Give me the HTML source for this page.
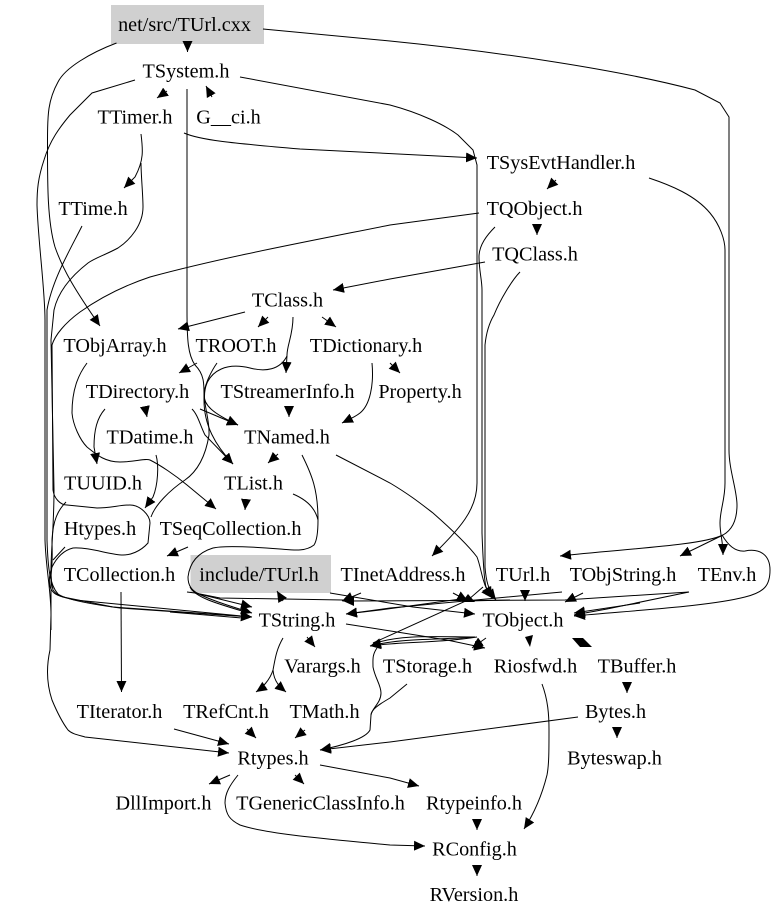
<!DOCTYPE html>
<html><head><meta charset="utf-8"><title>TUrl include graph</title>
<style>
html,body{margin:0;padding:0;background:#fff;width:779px;height:918px;overflow:hidden}
svg{display:block}
text{font-family:"Liberation Serif",serif;font-size:20.200px;fill:#000;text-anchor:middle}
.e path{fill:none;stroke:#000;stroke-width:1}
.a path{fill:none;stroke:#000;stroke-width:1;marker-end:url(#h)}
</style></head><body>
<svg width="779" height="918" viewBox="0 0 779 918" xmlns="http://www.w3.org/2000/svg">
<defs><marker id="h" markerUnits="userSpaceOnUse" markerWidth="12" markerHeight="11" refX="11" refY="5" orient="auto"><path d="M0,0L11,5L0,10z" fill="#000"/></marker></defs>
<rect x="111" y="5" width="153" height="39" fill="#d0d0d0"/>
<rect x="190.500" y="555" width="140.500" height="38" fill="#d0d0d0"/>
<g class="a">
<path d="M187.500,41L187.500,52"/>
<path d="M116.500,43C90,53 65,68 58,82C48,100 47.500,115 47.500,140C47.500,180 47,220 55,247C63,270 75,290 100,326"/>
<path d="M263,29L390,41C500,52 620,70 695,90L720,103L729,117L729,450C729,470 737,490 737,505C737,520 732,530 723,535C700,546 620,549 560,556"/>
<path d="M723,535L680,556"/>
<path d="M649,178C670,185 695,195 710,213C720,225 725,240 725,250L725,483C725,500 720,510 720,523C720,535 723,540 723,555"/>
<path d="M722,535C728,545 735,552 745,551C760,548 770,555 770,570C770,585 765,592 745,597C710,606 640,610 574,616"/>
<path d="M167,91L157,98"/>
<path d="M212,97L206,86"/>
<path d="M187,89L187,310C187,340 188,355 195,365C205,375 204,385 204,400C204,425 215,445 233,464"/>
<path d="M240,77L390,105C420,113 445,125 458,135L473,150L477,165L477,483C477,510 460,528 432,556"/>
<path d="M135,80L92,93L70,115C60,127 50,140 44,160C38,178 37,190 37,205C38,240 45,290 45,320L45,540C46,570 51,590 51,615L50,650C46,668 47,685 52,700C57,712 62,722 68,730C72,734 78,735 85,737L229,753"/>
<path d="M141,134C143,150 144,160 135,177L124,188"/>
<path d="M141,163C141,175 143,195 143,207C143,225 130,240 118,248C105,255 95,258 88,263C70,277 58,292 54,310L51,340L54,490C54,540 48,570 53,590C57,596 62,597 75,600L252,617"/>
<path d="M184,133C200,140 230,143 300,149L477,158"/>
<path d="M82,226C70,250 52,280 47,310L47,540C48,570 50,585 58,594C65,599 90,604 120,608L252,617"/>
<path d="M479,213L390,225C300,243 220,258 150,277C120,287 97,300 80,312C65,323 55,335 52,345L53,490C54,498 60,505 67,505L97,508C110,508 120,505 130,505C140,505 150,515 150,523L148,543C140,552 130,555 123,555C110,555 90,547 73,548C65,550 58,555 52,567C49,575 49,582 50,587C52,592 55,595 63,597L113,607L252,617"/>
<path d="M495,227C487,235 479,245 479,257C479,270 482,280 482,290L482,533C483,560 484,580 486,587L492,598"/>
<path d="M520,272C512,280 500,300 494,315C488,325 486,335 485,345L485,567C486,580 488,590 496,600"/>
<path d="M485,262L390,279L333,290"/>
<path d="M556,180L547,189"/>
<path d="M537,224L537,235"/>
<path d="M245,312L178,329"/>
<path d="M268,317L258,327"/>
<path d="M322,317L336,327"/>
<path d="M293,317C293,335 287,345 287,355L286,373"/>
<path d="M197,363L179,373"/>
<path d="M217,363C212,370 204,385 204,395C204,405 212,413 238,425"/>
<path d="M390,363L400,373"/>
<path d="M372,363C374,385 370,405 360,413C355,417 350,419 342,423"/>
<path d="M87,363C78,375 72,390 72,413C73,425 80,440 87,447C97,455 105,462 120,462C135,462 145,458 150,460C160,465 175,475 187,485L216,509"/>
<path d="M145,407L147,417"/>
<path d="M200,409L238,425"/>
<path d="M192,409C198,415 200,425 205,435L233,464"/>
<path d="M105,409C97,418 94,430 94,447L97,464"/>
<path d="M289,407L289,417"/>
<path d="M278,454L268,463"/>
<path d="M302,455C312,475 318,490 318,520C318,535 316,542 314,545C305,552 293,550 280,549C255,547 225,545 213,548C200,552 190,560 188,577C188,586 192,590 197,593C210,600 230,606 252,613"/>
<path d="M336,455L390,483C410,495 420,503 433,513C450,528 468,545 477,557C482,570 482,585 492,598"/>
<path d="M246,499L245,510"/>
<path d="M188,547L167,556"/>
<path d="M121,592L121.500,692"/>
<path d="M187,592L195,593L252,607"/>
<path d="M156,455C159,465 158,485 153,497L145,508"/>
<path d="M361,593L342,601"/>
<path d="M468,598L380,610L346,614"/>
<path d="M562,592L390,608L346,614"/>
<path d="M689,592L565,600L343,601"/>
<path d="M330,593L413,607L475,614"/>
<path d="M689,592L607,609L574,615"/>
<path d="M640,603L574,613"/>
<path d="M583,593L565,602"/>
<path d="M525,591L525,601"/>
<path d="M346,624L397,632L447,640L485,648"/>
<path d="M486,638L472,648"/>
<path d="M475,637C440,640 400,638 370,646"/>
<path d="M477,637C440,643 395,642 370,646"/>
<path d="M453,593L468,601"/>
<path d="M283,601L277,591"/>
<path d="M307,637L315,647"/>
<path d="M283,638C276,650 275,660 273,670C270,680 262,688 256,692"/>
<path d="M273,670C274,682 280,687 286,692"/>
<path d="M407,684L390,698C378,705 371,710 371,715L370,730C366,738 345,745 320,750"/>
<path d="M578,717L390,742L320,750"/>
<path d="M174,729L229,744"/>
<path d="M247,729L256,738"/>
<path d="M305,730L295,738"/>
<path d="M230,775L209,784"/>
<path d="M295,775L304,784"/>
<path d="M320,765L390,778L419,786"/>
<path d="M238,775C230,785 225,793 225,803C226,815 230,820 240,825C270,835 340,840 390,845L425,846"/>
<path d="M542,684C548,700 549,715 549,730C549,750 549,765 547,775C542,795 535,812 524,829"/>
<path d="M627,682L627,693"/>
<path d="M617,727L617,738"/>
<path d="M477,819L477,830"/>
<path d="M477,865L477,876"/>
</g>
<g class="e">
<path d="M377,648C372,655 373,660 373,667C375,678 381,685 381,693C381,703 372,708 371,715"/>
<path d="M287,356C280,370 265,372 250,368C225,362 212,372 207,383C200,400 210,415 209,435C205,460 195,473 185,480C170,490 155,505 151,517"/>
<path d="M293,494C305,499 315,507 318,520"/>
<path d="M66,502C58,510 53,520 52,540C52,550 53,560 51,575L51,630"/>
<path d="M65,547L53,560"/>
<path d="M190,587C195,597 215,603 242,611"/>
<path d="M170,612L242,618"/>
<path d="M195,593L220,598L343,600"/>
<path d="M373,643L468,600L483,587"/>
<path d="M475,637C440,637 400,634 373,644"/>
<path d="M467,601L510,600"/>
</g>
<g fill="#000">
<polygon points="468,594 462,602 475,602"/>
<polygon points="572,638 583,638 592,647 580,647"/>
<polygon points="530,647 525,637 533,635"/>
</g>
<text x="184.500" y="31">net/src/TUrl.cxx</text>
<text x="186" y="77.700">TSystem.h</text>
<text x="135" y="123.500">TTimer.h</text>
<text x="228.500" y="123.500">G__ci.h</text>
<text x="561" y="169">TSysEvtHandler.h</text>
<text x="93" y="215">TTime.h</text>
<text x="534.500" y="215">TQObject.h</text>
<text x="535" y="260.700">TQClass.h</text>
<text x="287.500" y="306.500">TClass.h</text>
<text x="115" y="352">TObjArray.h</text>
<text x="236" y="352">TROOT.h</text>
<text x="366" y="352">TDictionary.h</text>
<text x="137.500" y="398">TDirectory.h</text>
<text x="287.500" y="398">TStreamerInfo.h</text>
<text x="420" y="398">Property.h</text>
<text x="150" y="443.700">TDatime.h</text>
<text x="287" y="443.700">TNamed.h</text>
<text x="103" y="489.500">TUUID.h</text>
<text x="253.500" y="489.500">TList.h</text>
<text x="100" y="535">Htypes.h</text>
<text x="230.500" y="535">TSeqCollection.h</text>
<text x="119.500" y="581">TCollection.h</text>
<text x="259" y="581">include/TUrl.h</text>
<text x="403" y="581">TInetAddress.h</text>
<text x="523" y="581">TUrl.h</text>
<text x="623" y="581">TObjString.h</text>
<text x="727" y="581">TEnv.h</text>
<text x="297" y="626.700">TString.h</text>
<text x="523" y="626.700">TObject.h</text>
<text x="322.500" y="672.400">Varargs.h</text>
<text x="427.500" y="672.400">TStorage.h</text>
<text x="535.500" y="672.400">Riosfwd.h</text>
<text x="637" y="672.400">TBuffer.h</text>
<text x="119.500" y="718">TIterator.h</text>
<text x="226" y="718">TRefCnt.h</text>
<text x="324.500" y="718">TMath.h</text>
<text x="615.500" y="718">Bytes.h</text>
<text x="273" y="764.500">Rtypes.h</text>
<text x="614.500" y="764.500">Byteswap.h</text>
<text x="163.500" y="809.600">DllImport.h</text>
<text x="320.500" y="809.600">TGenericClassInfo.h</text>
<text x="474" y="809.600">Rtypeinfo.h</text>
<text x="474.500" y="855.300">RConfig.h</text>
<text x="474" y="901">RVersion.h</text>
</svg>
</body></html>
